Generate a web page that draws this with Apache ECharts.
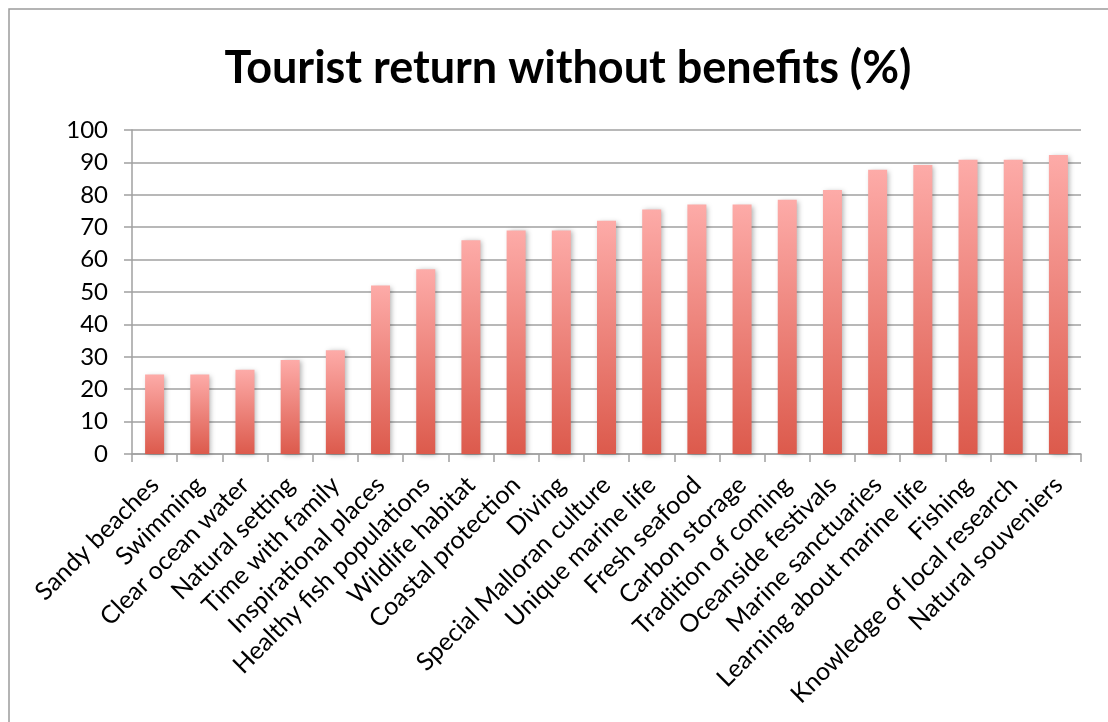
<!DOCTYPE html>
<html>
<head>
<meta charset="utf-8">
<script src="https://cdn.jsdelivr.net/npm/echarts@6/dist/echarts.min.js"></script>
<style>
  html, body { margin: 0; padding: 0; background: #fff; }
  #chart { width: 1108px; height: 722px; }
</style>
</head>
<body>
<div id="chart"></div>
<script>
// Activities and the share of tourists who would return without them (%)
const categories = [
  'Sandy beaches', 'Swimming', 'Clear ocean water', 'Natural setting',
  'Time with family', 'Inspirational places', 'Healthy fish populations',
  'Wildlife habitat', 'Coastal protection', 'Diving', 'Special Malloran culture',
  'Unique marine life', 'Fresh seafood', 'Carbon storage', 'Tradition of coming',
  'Oceanside festivals', 'Marine sanctuaries', 'Learning about marine life',
  'Fishing', 'Knowledge of local research', 'Natural souveniers'
];
const returnWithout = [
  24.5, 24.5, 26, 29, 32, 52, 57, 66, 69, 69, 72,
  75.5, 77, 77, 78.5, 81.5, 87.7, 89.2, 90.8, 90.8, 92.3
];
const yTicks = { min: 0, max: 100, step: 10 };

const gray = '#a0a0a0';
const labelFont = 'Lato, "Open Sans", sans-serif';

const chart = echarts.init(document.getElementById('chart'), null, { renderer: 'canvas' });
chart.setOption({
  backgroundColor: '#ffffff',
  animation: false,
  title: {
    text: 'Tourist return without benefits (%)',
    left: 563,
    top: 41,
    textAlign: 'center',
    textStyle: { fontFamily: labelFont, fontWeight: 'bold', fontSize: 45, color: '#000' }
  },
  graphic: [{
    type: 'rect',
    shape: { x: 9, y: 9, width: 1300, height: 900 },
    style: { fill: 'none', stroke: '#9c9c9c', lineWidth: 1.5 },
    silent: true
  }],
  grid: { left: 132, right: 27, top: 130, height: 324, containLabel: false },
  xAxis: {
    type: 'category',
    data: categories,
    boundaryGap: true,
    axisLine: { lineStyle: { color: gray, width: 1.5 } },
    axisTick: { show: true, length: 8, alignWithLabel: false, lineStyle: { color: gray, width: 1.5 } },
    axisLabel: {
      interval: 0, rotate: 45, margin: 27,
      padding: [8, 0, 0, 0],
      fontFamily: labelFont, fontSize: 25, color: '#000'
    }
  },
  yAxis: {
    type: 'value',
    min: yTicks.min, max: yTicks.max, interval: yTicks.step,
    axisLine: { show: true, lineStyle: { color: gray, width: 1.5 } },
    axisTick: { show: true, length: 8, lineStyle: { color: gray, width: 1.5 } },
    splitLine: { show: true, lineStyle: { color: gray, width: 1.5 } },
    axisLabel: { margin: 24, fontFamily: labelFont, fontSize: 24, color: '#000' }
  },
  series: [{
    type: 'bar',
    data: returnWithout,
    barWidth: 19,
    itemStyle: {
      color: new echarts.graphic.LinearGradient(0, 0, 0, 1, [
        { offset: 0, color: '#fdaba8' },
        { offset: 1, color: '#dc5a4c' }
      ]),
      shadowColor: 'rgba(0,0,0,0.3)',
      shadowBlur: 5,
      shadowOffsetX: 2,
      shadowOffsetY: 1
    }
  }]
});
</script>
</body>
</html>
